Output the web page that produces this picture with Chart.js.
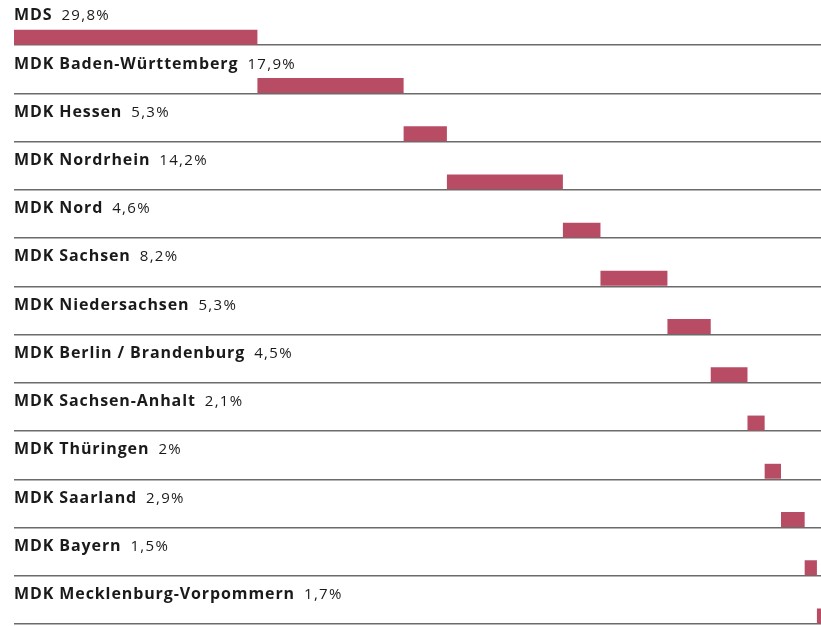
<!DOCTYPE html>
<html>
<head>
<meta charset="utf-8">
<script src="https://cdn.jsdelivr.net/npm/chart.js@4"></script>
<style>
  html, body { margin: 0; padding: 0; background: #fff; overflow: hidden; }
  #wrap { position: relative; width: 821px; height: 626px; }
  #chart1 { position: absolute; left: 0; top: -3px; }
</style>
</head>
<body>
<div id="wrap"><canvas id="chart1" width="821" height="631"></canvas></div>
<script>
var NAMES = ['MDS', 'MDK Baden-Württemberg', 'MDK Hessen', 'MDK Nordrhein', 'MDK Nord',
  'MDK Sachsen', 'MDK Niedersachsen', 'MDK Berlin / Brandenburg', 'MDK Sachsen-Anhalt',
  'MDK Thüringen', 'MDK Saarland', 'MDK Bayern', 'MDK Mecklenburg-Vorpommern'];
var SHARES = [29.8, 17.9, 5.3, 14.2, 4.6, 8.2, 5.3, 4.5, 2.1, 2, 2.9, 1.5, 1.7];

var BAR_COLOR = '#b84c64';
var LINE_COLOR = '#6b6b6b';

// waterfall: each bar starts where the previous ended
var floating = [];
var run = 0;
SHARES.forEach(function (v) {
  floating.push([run, run + v]);
  run += v;
});
var empty = NAMES.map(function () { return null; });

function fmt(v) { return String(v).replace('.', ',') + '%'; }

// names + values above each bar
var labelPlugin = {
  id: 'rowLabels',
  afterDatasetsDraw: function (chart) {
    var ctx = chart.ctx;
    var y = chart.scales.y;
    var left = chart.chartArea.left;
    var band = (chart.chartArea.bottom - chart.chartArea.top) / NAMES.length;
    ctx.save();
    ctx.fillStyle = '#1a1a1a';
    ctx.textBaseline = 'alphabetic';
    NAMES.forEach(function (name, i) {
      var top = y.getPixelForValue(i) - band / 2;
      var base = top + 23.3;
      ctx.font = 'bold 16px "Open Sans"';
      ctx.letterSpacing = '0.9px';
      ctx.fillText(name, left, base);
      var w = ctx.measureText(name).width;
      ctx.font = '15px "Open Sans"';
      ctx.letterSpacing = '1.3px';
      ctx.fillText(fmt(SHARES[i]), left + w + 9, base);
    });
    ctx.restore();
  }
};

new Chart(document.getElementById('chart1'), {
  type: 'bar',
  data: {
    labels: NAMES,
    datasets: [
      { data: empty },
      { data: empty },
      { data: floating, backgroundColor: BAR_COLOR, borderWidth: 0, borderSkipped: false }
    ]
  },
  options: {
    indexAxis: 'y',
    responsive: false,
    animation: false,
    events: [],
    categoryPercentage: 1,
    barPercentage: 0.93,
    layout: { padding: { left: 14, right: 0, top: 0, bottom: 4 } },
    plugins: { legend: { display: false }, tooltip: { enabled: false } },
    scales: {
      x: { display: false, min: 0, max: 98.8 },
      y: {
        ticks: { display: false },
        border: { display: false },
        grid: { offset: true, drawTicks: false, color: LINE_COLOR, lineWidth: 1.5 }
      }
    }
  },
  plugins: [labelPlugin]
});
</script>
</body>
</html>
